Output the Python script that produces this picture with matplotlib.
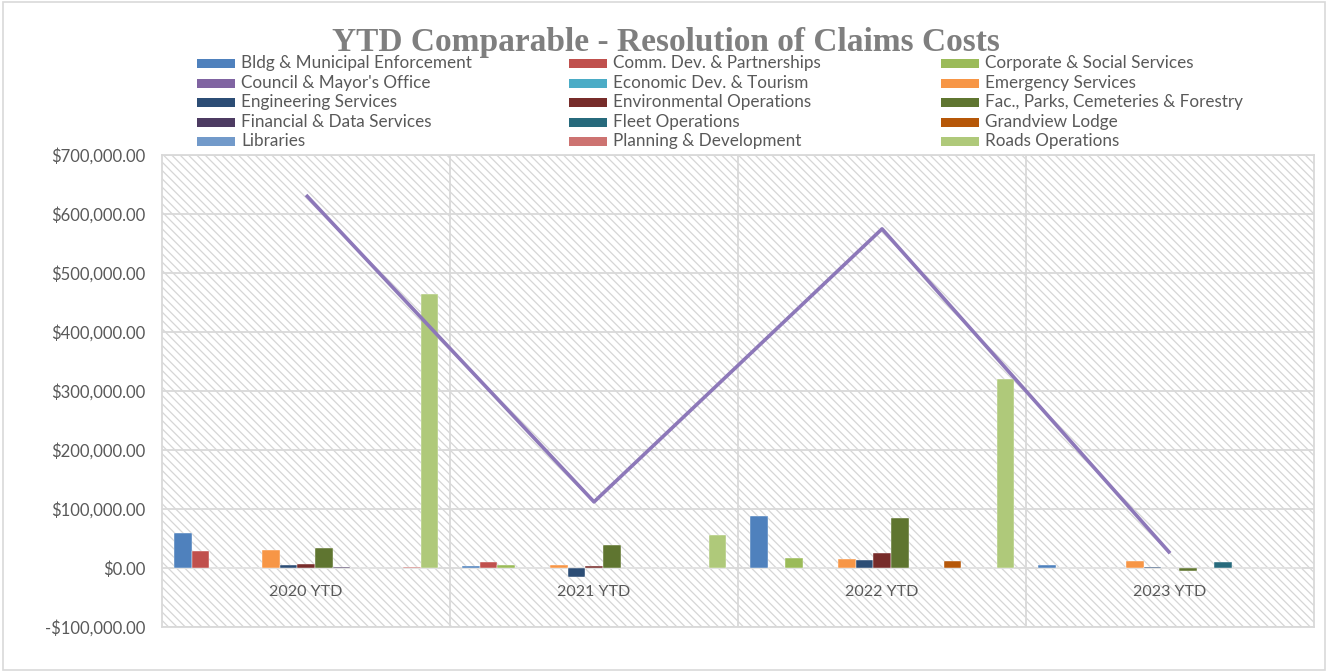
import numpy as np
import matplotlib
matplotlib.use('Agg')
import matplotlib.pyplot as plt
from matplotlib.patches import Rectangle

# =============================================================================
# DATA
# =============================================================================

categories = ['2020 YTD', '2021 YTD', '2022 YTD', '2023 YTD']

departments = [
    'Bldg & Municipal Enforcement', 'Comm. Dev. & Partnerships', 'Corporate & Social Services',
    "Council & Mayor's Office", 'Economic Dev. & Tourism', 'Emergency Services',
    'Engineering Services', 'Environmental Operations', 'Fac., Parks, Cemeteries & Forestry',
    'Financial & Data Services', 'Fleet Operations', 'Grandview Lodge',
    'Libraries', 'Planning & Development', 'Roads Operations',
]

bldg = [59000, 4000, 88600, 4600]
comm_dev = [28600, 9700, 0, 0]
corporate = [0, 5700, 16600, 0]
council = [0, 0, 0, 0]
economic = [0, 0, 0, 0]
emergency = [29700, 4600, 14900, 12000]
engineering = [4600, -15400, 13100, 1000]
environmental = [6300, 3400, 25100, 0]
fac_parks = [33700, 39400, 85100, -4600]
financial = [1500, 0, 0, 0]
fleet = [0, 0, 0, 10300]
grandview = [0, 0, 12000, 0]
libraries = [0, 0, 0, 0]
planning = [1000, 0, 0, 0]
roads = [464000, 55400, 319700, 0]

total_line = [632000, 112000, 574600, 25000]

series = [bldg, comm_dev, corporate, council, economic, emergency, engineering,
          environmental, fac_parks, financial, fleet, grandview, libraries,
          planning, roads]

colors = ['#4F81BD', '#C0504D', '#9BBB59', '#8064A2', '#4BACC6', '#F79646',
          '#2C4D75', '#772C2A', '#5F7530', '#4D3B62', '#276A7C', '#B65708',
          '#729ACA', '#CD7371', '#AFC97A']

# =============================================================================
# FIGURE
# =============================================================================

plt.rcParams['font.family'] = ['Lato', 'DejaVu Sans']
plt.rcParams['hatch.linewidth'] = 0.9

fig = plt.figure(figsize=(13.28, 6.72), dpi=100)
fig.patch.set_facecolor('white')
fig.add_artist(Rectangle((0.002, 0.003), 0.996, 0.994, transform=fig.transFigure,
                         fill=False, edgecolor='#D9D9D9', linewidth=1.2))

ax = fig.add_axes([0.122, 0.067, 0.8675, 0.7025])
ax.set_xlim(-0.5, 3.5)
ax.set_ylim(-100000, 700000)

# fondo rayado
ax.add_patch(Rectangle((0, 0), 1, 1, transform=ax.transAxes, facecolor='white',
                       edgecolor='#D6D6D6', hatch='\\\\\\\\', linewidth=0, zorder=0))

# grid
for yv in np.arange(-100000, 700001, 100000):
    ax.axhline(yv, color='#D9D9D9', linewidth=1.3, zorder=1)
for xv in [0.5, 1.5, 2.5]:
    ax.axvline(xv, color='#D9D9D9', linewidth=1.3, zorder=1)

x = np.arange(len(categories))
slot = 0.0611
first = -0.427
for i, (vals, col) in enumerate(zip(series, colors)):
    ax.bar(x + first + i * slot, vals, width=slot, color=col, zorder=3,
           edgecolor='white', linewidth=0.3)

ax.plot(x, total_line, color='#8D78B9', linewidth=2.6, zorder=4,
        solid_capstyle='butt')

for s in ax.spines.values():
    s.set_color('#D9D9D9')
    s.set_linewidth(1.3)

ax.set_xticks([])
yt = np.arange(-100000, 700001, 100000)
ax.set_yticks(yt)
ax.set_yticklabels([('-$' if v < 0 else '$') + f'{abs(v):,.2f}' for v in yt])
ax.tick_params(axis='y', length=0, pad=12, labelsize=12, labelcolor='#595959')

for xi, cat in zip(x, categories):
    ax.text(xi, -40000, cat, ha='center', va='center', fontsize=11.5, color='#595959')

# título
fig.text(0.5015, 0.937, 'YTD Comparable - Resolution of Claims Costs', ha='center', va='center',
         fontsize=24, fontweight='bold', color='#7F7F7F', family='Liberation Serif')

# leyenda (orden por filas, 3 columnas)
col_x = [197, 569, 941]
row_y = [63, 83, 102, 122, 141]
W, H = 1328, 672
for i, (name, col) in enumerate(zip(departments, colors)):
    r, c = divmod(i, 3)
    px, py = col_x[c], row_y[r]
    fig.add_artist(Rectangle((px / W, (H - py - 4.5) / H), 38 / W, 9 / H,
                             transform=fig.transFigure, facecolor=col, edgecolor='none'))
    fig.text((px + 44) / W, (H - py) / H, name, ha='left', va='center',
             fontsize=12.3, color='#595959')

plt.savefig('out.png', dpi=100, facecolor='white')
